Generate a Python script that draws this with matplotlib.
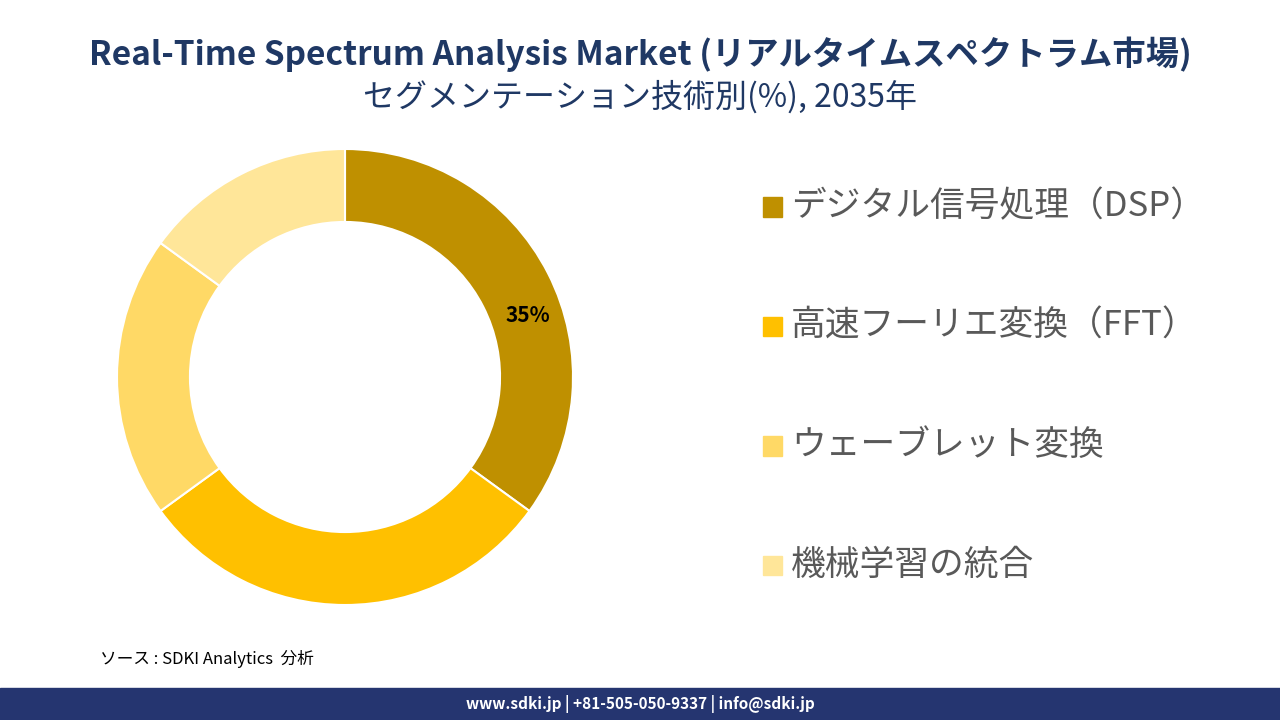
import matplotlib
matplotlib.use("Agg")
import matplotlib.pyplot as plt
from matplotlib.patches import Rectangle

plt.rcParams['font.family'] = ['Noto Sans CJK JP', 'DejaVu Sans']

categories = ["デジタル信号処理（DSP）", "高速フーリエ変換（FFT）", "ウェーブレット変換", "機械学習の統合"]
values = [35, 30, 20, 15]
colors = ["#BF9000", "#FFC000", "#FFD966", "#FFE699"]

fig = plt.figure(figsize=(12.8, 7.2), dpi=100)
fig.text(0.5, 0.925, "Real-Time Spectrum Analysis Market (リアルタイムスペクトラム市場)",
         ha='center', va='center', fontsize=24, fontweight='bold', color='#1F3864')
fig.text(0.5, 0.865, "セグメンテーション技術別(%), 2035年", ha='center', va='center',
         fontsize=23, color='#1F3864')

w, h = 456 / 1280, 456 / 720
ax = fig.add_axes([345 / 1280 - w / 2, 1 - 377 / 720 - h / 2, w, h])
wedges, _ = ax.pie(values, colors=colors, startangle=90, counterclock=False,
                   wedgeprops=dict(width=0.32, edgecolor='white', linewidth=1.5))
ax.set_xlim(-1, 1)
ax.set_ylim(-1, 1)
ax.set_aspect('equal')
ax.text(0.80, 0.27, "35%", ha='center', va='center', fontsize=15, fontweight='bold', color='black')

for i, (c, col) in enumerate(zip(categories, colors)):
    y = 0.713 - i * 0.166
    fig.patches.append(Rectangle((0.596, y - 0.014), 0.015, 0.027, transform=fig.transFigure,
                                 color=col, figure=fig))
    fig.text(0.618, y, c, va='center', ha='left', fontsize=25, color='#595959')

fig.text(0.078, 0.085, "ソース : SDKI Analytics  分析", fontsize=12, style='italic', va='center')
fig.patches.append(Rectangle((0, 0), 1, 0.045, transform=fig.transFigure, color='#253570', figure=fig))
fig.text(0.5, 0.0225, "www.sdki.jp | +81-505-050-9337 | info@sdki.jp", ha='center', va='center',
         color='white', fontsize=11, fontweight='bold')
fig.savefig("out.png")
